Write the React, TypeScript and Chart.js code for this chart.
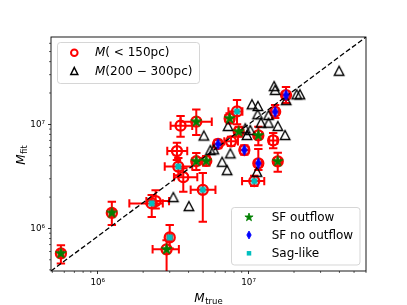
import React, { useEffect, useRef } from 'react';
import { Chart, registerables } from 'chart.js';

Chart.register(...registerables);

// ---- axis limits and tick labels ----
const X_LIMITS = [4.9e5, 6.0e7];
const Y_LIMITS = [3.9e5, 6.9e7];
const X_MAJOR_TICKS = [1e6, 1e7];
const Y_MAJOR_TICKS = [1e6, 1e7];

// ---- M(<150pc): true mass, fitted mass, error bounds, class ----
const innerTrue = [5.7e5, 1.24e6, 2.28e6, 2.42e6, 3.0e6, 2.86e6, 3.35e6, 3.54e6, 4.5e6, 3.42e6, 3.69e6, 4.5e6, 5.24e6, 4.97e6, 8.38e6, 7.49e6, 8.6e6, 7.65e6, 6.27e6, 9.37e6, 1.16e7, 1.455e7, 1.16e7, 1.09e7, 1.56e7, 1.5e7, 1.77e7];
const innerFit = [5.75e5, 1.41e6, 1.74e6, 1.83e6, 8.2e5, 6.3e5, 5.54e6, 9.7e6, 1.06e7, 3.93e6, 3.11e6, 4.42e6, 4.45e6, 2.35e6, 1.33e7, 1.14e7, 8.5e6, 6.86e6, 6.47e6, 5.66e6, 7.83e6, 7.0e6, 4.22e6, 2.85e6, 4.41e6, 1.32e7, 1.91e7];
const innerTrueLo = [5.5e5, 1.2e6, 1.62e6, 2.1e6, 2.9e6, 2.31e6, 2.89e6, 3.04e6, 3.54e6, 2.78e6, 3.2e6, 4.25e6, 4.95e6, 4.13e6, 7.35e6, 7.0e6, 8.1e6, 6.9e6, 5.9e6, 8.8e6, 1.1e7, 1.37e7, 1.1e7, 9.05e6, 1.48e7, 1.42e7, 1.68e7];
const innerTrueHi = [5.9e5, 1.28e6, 2.7e6, 2.97e6, 3.1e6, 3.45e6, 3.92e6, 4.23e6, 5.7e6, 4.23e6, 4.57e6, 4.75e6, 5.55e6, 6.03e6, 9.1e6, 8.0e6, 9.1e6, 8.5e6, 6.6e6, 1.0e7, 1.23e7, 1.55e7, 1.22e7, 1.27e7, 1.64e7, 1.58e7, 1.86e7];
const innerFitLo = [4.6e5, 1.08e6, 1.29e6, 1.55e6, 6.4e5, 3.0e5, 4.54e6, 7.6e6, 7.9e6, 3.25e6, 2.25e6, 3.64e6, 4.0e6, 1.16e6, 1.0e7, 1.02e7, 7.6e6, 6.2e6, 5.9e6, 5.1e6, 6.3e6, 5.9e6, 3.64e6, 2.55e6, 3.5e6, 1.15e7, 1.6e7];
const innerFitHi = [6.9e5, 1.8e6, 2.1e6, 2.33e6, 1.08e6, 7.7e5, 6.66e6, 1.2e7, 1.39e7, 4.74e6, 3.78e6, 5.3e6, 4.95e6, 3.4e6, 1.71e7, 1.28e7, 9.5e6, 7.6e6, 7.1e6, 6.3e6, 9.5e6, 8.25e6, 5.8e6, 3.2e6, 5.33e6, 1.53e7, 2.28e7];
const innerClass = ['out', 'out', 'sag', '', 'sag', 'out', '', '', 'out', 'sag', '', 'out', 'out', 'sag', 'sag', 'out', 'out', '', 'noout', 'noout', 'out', '', 'noout', 'sag', 'out', 'noout', 'noout'];

// ---- M(200-300pc) ----
const outerTrue = [3.17e6, 4.02e6, 5.05e6, 5.58e6, 5.88e6, 6.68e6, 7.2e6, 7.57e6, 7.31e6, 9.75e6, 1.026e7, 9.51e6, 1.053e7, 1.153e7, 1.147e7, 1.355e7, 1.207e7, 1.355e7, 1.563e7, 1.746e7, 1.136e7, 1.477e7, 1.5e7, 1.773e7, 2.085e7, 2.19e7, 3.98e7];
const outerFit = [2.0e6, 1.64e6, 7.8e6, 5.66e6, 5.75e6, 4.37e6, 3.63e6, 5.26e6, 9.63e6, 7.89e6, 8.81e6, 9.15e6, 1.557e7, 1.5e7, 1.248e7, 1.229e7, 1.036e7, 1.036e7, 9.63e6, 7.89e6, 3.5e6, 2.33e7, 2.14e7, 1.71e7, 1.94e7, 1.94e7, 3.27e7];

const FONT = '"DejaVu Sans", sans-serif';
const RED = '#ff0000';
const GREEN = '#008000';
const BLUE = '#0000ff';
const CYAN = '#00bfbf';

const SUP: Record<string, string> = { '0': '⁰', '1': '¹', '2': '²', '3': '³', '4': '⁴', '5': '⁵', '6': '⁶', '7': '⁷', '8': '⁸', '9': '⁹', '-': '⁻' };
function pow10Label(v: number) {
  const e = Math.round(Math.log10(v));
  return '10' + String(e).split('').map((c) => SUP[c] || c).join('');
}

function drawStar(ctx: CanvasRenderingContext2D, cx: number, cy: number, R: number, color: string) {
  const r = R * 0.381966;
  ctx.beginPath();
  for (let i = 0; i < 10; i++) {
    const a = -Math.PI / 2 + (i * Math.PI) / 5;
    const rr = i % 2 === 0 ? R : r;
    const px = cx + rr * Math.cos(a);
    const py = cy + rr * Math.sin(a);
    if (i === 0) ctx.moveTo(px, py);
    else ctx.lineTo(px, py);
  }
  ctx.closePath();
  ctx.fillStyle = color;
  ctx.fill();
  ctx.strokeStyle = color;
  ctx.lineWidth = 0.8;
  ctx.lineJoin = 'miter';
  ctx.stroke();
}
function drawDiamond(ctx: CanvasRenderingContext2D, cx: number, cy: number, hw: number, hh: number, color: string) {
  ctx.beginPath();
  ctx.moveTo(cx, cy - hh);
  ctx.lineTo(cx + hw, cy);
  ctx.lineTo(cx, cy + hh);
  ctx.lineTo(cx - hw, cy);
  ctx.closePath();
  ctx.fillStyle = color;
  ctx.fill();
  ctx.strokeStyle = color;
  ctx.lineWidth = 0.8;
  ctx.stroke();
}
function drawSquare(ctx: CanvasRenderingContext2D, cx: number, cy: number, s: number, color: string) {
  ctx.fillStyle = color;
  ctx.fillRect(cx - s / 2, cy - s / 2, s, s);
}
function drawTriangle(ctx: CanvasRenderingContext2D, cx: number, cy: number, w: number, h: number, lw = 1.4) {
  ctx.beginPath();
  ctx.moveTo(cx, cy - h / 2);
  ctx.lineTo(cx + w / 2, cy + h / 2);
  ctx.lineTo(cx - w / 2, cy + h / 2);
  ctx.closePath();
  ctx.strokeStyle = '#000';
  ctx.lineWidth = lw;
  ctx.lineJoin = 'miter';
  ctx.stroke();
}
function drawRing(ctx: CanvasRenderingContext2D, cx: number, cy: number, r: number) {
  ctx.beginPath();
  ctx.arc(cx, cy, r, 0, Math.PI * 2);
  ctx.strokeStyle = RED;
  ctx.lineWidth = 2;
  ctx.stroke();
}
function markerImage(size: number, draw: (c: CanvasRenderingContext2D, m: number) => void) {
  const c = document.createElement('canvas');
  c.width = size;
  c.height = size;
  const ctx = c.getContext('2d')!;
  draw(ctx, size / 2);
  return c;
}

function minorValues(lo: number, hi: number) {
  const out: number[] = [];
  for (let e = Math.floor(Math.log10(lo)); e <= Math.ceil(Math.log10(hi)); e++) {
    for (let m = 2; m <= 9; m++) {
      const v = m * Math.pow(10, e);
      if (v >= lo && v <= hi) out.push(v);
    }
  }
  return out;
}

function pick<T>(arr: T[], cls: string) {
  return arr.filter((_, i) => innerClass[i] === cls);
}

export default function App() {
  const ref = useRef<HTMLCanvasElement>(null);

  useEffect(() => {
    const canvas = ref.current!;
    const starImg = markerImage(15, (c, m) => drawStar(c, m, m, 5.8, GREEN));
    const diamondImg = markerImage(15, (c, m) => drawDiamond(c, m, m, 2.8, 5.5, BLUE));
    const squareImg = markerImage(9, (c, m) => drawSquare(c, m, m, 6, CYAN));
    const triImg = markerImage(14, (c, m) => drawTriangle(c, m, m, 9.5, 9));

    const pts = (xs: number[], ys: number[]) => xs.map((x, i) => ({ x, y: ys[i] }));

    const errorBars = {
      id: 'errorBars',
      beforeDatasetsDraw(chart: any) {
        const { ctx, chartArea: a, scales } = chart;
        const xs = scales.x, ys = scales.y;
        ctx.save();
        ctx.beginPath();
        ctx.rect(a.left, a.top, a.right - a.left, a.bottom - a.top);
        ctx.clip();
        ctx.strokeStyle = RED;
        ctx.lineWidth = 2;
        const cap = 4.2;
        for (let i = 0; i < innerTrue.length; i++) {
          const px = xs.getPixelForValue(innerTrue[i]);
          const py = ys.getPixelForValue(innerFit[i]);
          const x0 = xs.getPixelForValue(innerTrueLo[i]);
          const x1 = xs.getPixelForValue(innerTrueHi[i]);
          const y0 = ys.getPixelForValue(innerFitLo[i]);
          const y1 = ys.getPixelForValue(innerFitHi[i]);
          ctx.beginPath();
          ctx.moveTo(x0, py); ctx.lineTo(x1, py);
          ctx.moveTo(px, y0); ctx.lineTo(px, y1);
          ctx.moveTo(x0, py - cap); ctx.lineTo(x0, py + cap);
          ctx.moveTo(x1, py - cap); ctx.lineTo(x1, py + cap);
          ctx.moveTo(px - cap, y0); ctx.lineTo(px + cap, y0);
          ctx.moveTo(px - cap, y1); ctx.lineTo(px + cap, y1);
          ctx.stroke();
        }
        ctx.restore();
      },
    };

    const frame = {
      id: 'frame',
      afterDatasetsDraw(chart: any) {
        const { ctx, chartArea: a, scales } = chart;
        ctx.save();
        ctx.strokeStyle = '#000';
        ctx.lineWidth = 0.9;
        ctx.strokeRect(a.left, a.top, a.right - a.left, a.bottom - a.top);
        ctx.lineWidth = 0.6;
        ctx.beginPath();
        for (const v of minorValues(X_LIMITS[0], X_LIMITS[1])) {
          const px = scales.x.getPixelForValue(v);
          ctx.moveTo(px, a.bottom);
          ctx.lineTo(px, a.bottom + 2);
        }
        for (const v of minorValues(Y_LIMITS[0], Y_LIMITS[1])) {
          const py = scales.y.getPixelForValue(v);
          ctx.moveTo(a.left, py);
          ctx.lineTo(a.left - 2, py);
        }
        ctx.stroke();
        ctx.restore();
      },
    };

    const overlay = {
      id: 'overlay',
      afterDraw(chart: any) {
        const { ctx, chartArea: a } = chart;
        ctx.save();
        ctx.fillStyle = '#000';
        ctx.textBaseline = 'alphabetic';
        // x label
        const big = 12;
        const small = 8.5;
        ctx.font = `italic ${big}px ${FONT}`;
        const wM = ctx.measureText('M').width;
        ctx.font = `${small}px ${FONT}`;
        const wT = ctx.measureText('true').width;
        const cx = (a.left + a.right) / 2;
        const sx = cx - (wM + wT + 0.5) / 2;
        ctx.font = `italic ${big}px ${FONT}`;
        ctx.fillText('M', sx, 301.5);
        ctx.font = `${small}px ${FONT}`;
        ctx.fillText('true', sx + wM + 0.5, 304);
        // y label
        ctx.font = `${small}px ${FONT}`;
        const wF = ctx.measureText('fit').width;
        ctx.save();
        ctx.translate(24.5, (a.top + a.bottom) / 2 + 1);
        ctx.rotate(-Math.PI / 2);
        const sy = -(wM + wF + 0.5) / 2;
        ctx.font = `italic ${big}px ${FONT}`;
        ctx.fillText('M', sy, 0);
        ctx.font = `${small}px ${FONT}`;
        ctx.fillText('fit', sy + wM + 0.5, 2.5);
        ctx.restore();

        // legend boxes
        const box = (x: number, y: number, w: number, h: number) => {
          ctx.beginPath();
          ctx.roundRect(x, y, w, h, 3);
          ctx.fillStyle = 'rgba(255,255,255,0.8)';
          ctx.fill();
          ctx.strokeStyle = 'rgba(204,204,204,0.8)';
          ctx.lineWidth = 1;
          ctx.stroke();
        };
        const lf = 12;
        const mathText = (pre: string, rest: string, x: number, y: number) => {
          ctx.fillStyle = '#000';
          ctx.textBaseline = 'middle';
          ctx.font = `italic ${lf}px ${FONT}`;
          ctx.fillText(pre, x, y);
          const w = ctx.measureText(pre).width;
          ctx.font = `${lf}px ${FONT}`;
          ctx.fillText(rest, x + w, y);
        };
        box(57.5, 42.5, 142, 41);
        drawRing(ctx, 74.3, 52.7, 3.3);
        drawTriangle(ctx, 74.3, 71, 7, 7, 1.5);
        mathText('M', '( < 150pc)', 95, 53);
        mathText('M', '(200 − 300pc)', 95, 71.5);

        box(231.5, 207.5, 128.5, 57.5);
        drawStar(ctx, 249, 217.3, 4.3, GREEN);
        drawDiamond(ctx, 249, 235, 2.2, 4, BLUE);
        drawSquare(ctx, 249, 253.3, 4.5, CYAN);
        ctx.fillStyle = '#000';
        ctx.textBaseline = 'middle';
        ctx.font = `${lf}px ${FONT}`;
        ctx.fillText('SF outflow', 271.7, 217.8);
        ctx.fillText('SF no outflow', 271.7, 235.5);
        ctx.fillText('Sag-like', 271.7, 253.8);
        ctx.restore();
      },
    };

    const tickFont = { family: FONT, size: 8.8 };

    const chart = new Chart(canvas, {
      type: 'scatter',
      data: {
        datasets: [
          {
            label: 'SF outflow',
            data: pts(pick(innerTrue, 'out'), pick(innerFit, 'out')),
            pointStyle: starImg as any,
            pointRadius: 6,
            order: 0,
          },
          {
            label: 'SF no outflow',
            data: pts(pick(innerTrue, 'noout'), pick(innerFit, 'noout')),
            pointStyle: diamondImg as any,
            pointRadius: 6,
            order: 0,
          },
          {
            label: 'Sag-like',
            data: pts(pick(innerTrue, 'sag'), pick(innerFit, 'sag')),
            pointStyle: squareImg as any,
            pointRadius: 4,
            order: 0,
          },
          {
            label: 'one-to-one',
            data: pts(X_LIMITS, Y_LIMITS),
            showLine: true,
            borderColor: '#000',
            borderWidth: 1.3,
            borderDash: [5, 2.5],
            pointRadius: 0,
            order: 1,
          } as any,
          {
            label: 'M(200-300pc)',
            data: pts(outerTrue, outerFit),
            pointStyle: triImg as any,
            pointRadius: 6,
            order: 2,
          },
          {
            label: 'M(<150pc)',
            data: pts(innerTrue, innerFit),
            pointStyle: 'circle',
            pointRadius: 5,
            borderWidth: 2.3,
            borderColor: RED,
            backgroundColor: 'rgba(0,0,0,0)',
            order: 3,
          },
        ],
      },
      options: {
        responsive: false,
        animation: false,
        devicePixelRatio: 1,
        events: [],
        layout: { padding: { left: 0, top: 37, right: 41, bottom: 0 } },
        plugins: { legend: { display: false }, tooltip: { enabled: false } },
        scales: {
          x: {
            type: 'logarithmic',
            min: X_LIMITS[0],
            max: X_LIMITS[1],
            afterBuildTicks: (s: any) => {
              s.ticks = X_MAJOR_TICKS.map((v) => ({ value: v }));
            },
            afterFit: (s: any) => {
              s.height = 34;
            },
            grid: { drawOnChartArea: false, drawTicks: true, tickLength: 3, tickColor: '#000', tickWidth: 0.8 },
            border: { display: false },
            ticks: {
              autoSkip: false,
              maxRotation: 0,
              padding: 3,
              color: '#000',
              font: tickFont,
              callback: (v: any) => pow10Label(Number(v)),
            },
          },
          y: {
            type: 'logarithmic',
            min: Y_LIMITS[0],
            max: Y_LIMITS[1],
            afterBuildTicks: (s: any) => {
              s.ticks = Y_MAJOR_TICKS.map((v) => ({ value: v }));
            },
            afterFit: (s: any) => {
              s.width = 51;
            },
            grid: { drawOnChartArea: false, drawTicks: true, tickLength: 3, tickColor: '#000', tickWidth: 0.8 },
            border: { display: false },
            ticks: {
              autoSkip: false,
              padding: 3,
              color: '#000',
              font: tickFont,
              callback: (v: any) => pow10Label(Number(v)),
            },
          },
        },
      } as any,
      plugins: [errorBars, frame, overlay],
    });
    return () => chart.destroy();
  }, []);

  return (
    <div style={{ position: 'fixed', left: 0, top: 0, width: 407, height: 305, background: '#fff' }}>
      <canvas ref={ref} width={407} height={305} style={{ display: 'block' }} />
    </div>
  );
}
